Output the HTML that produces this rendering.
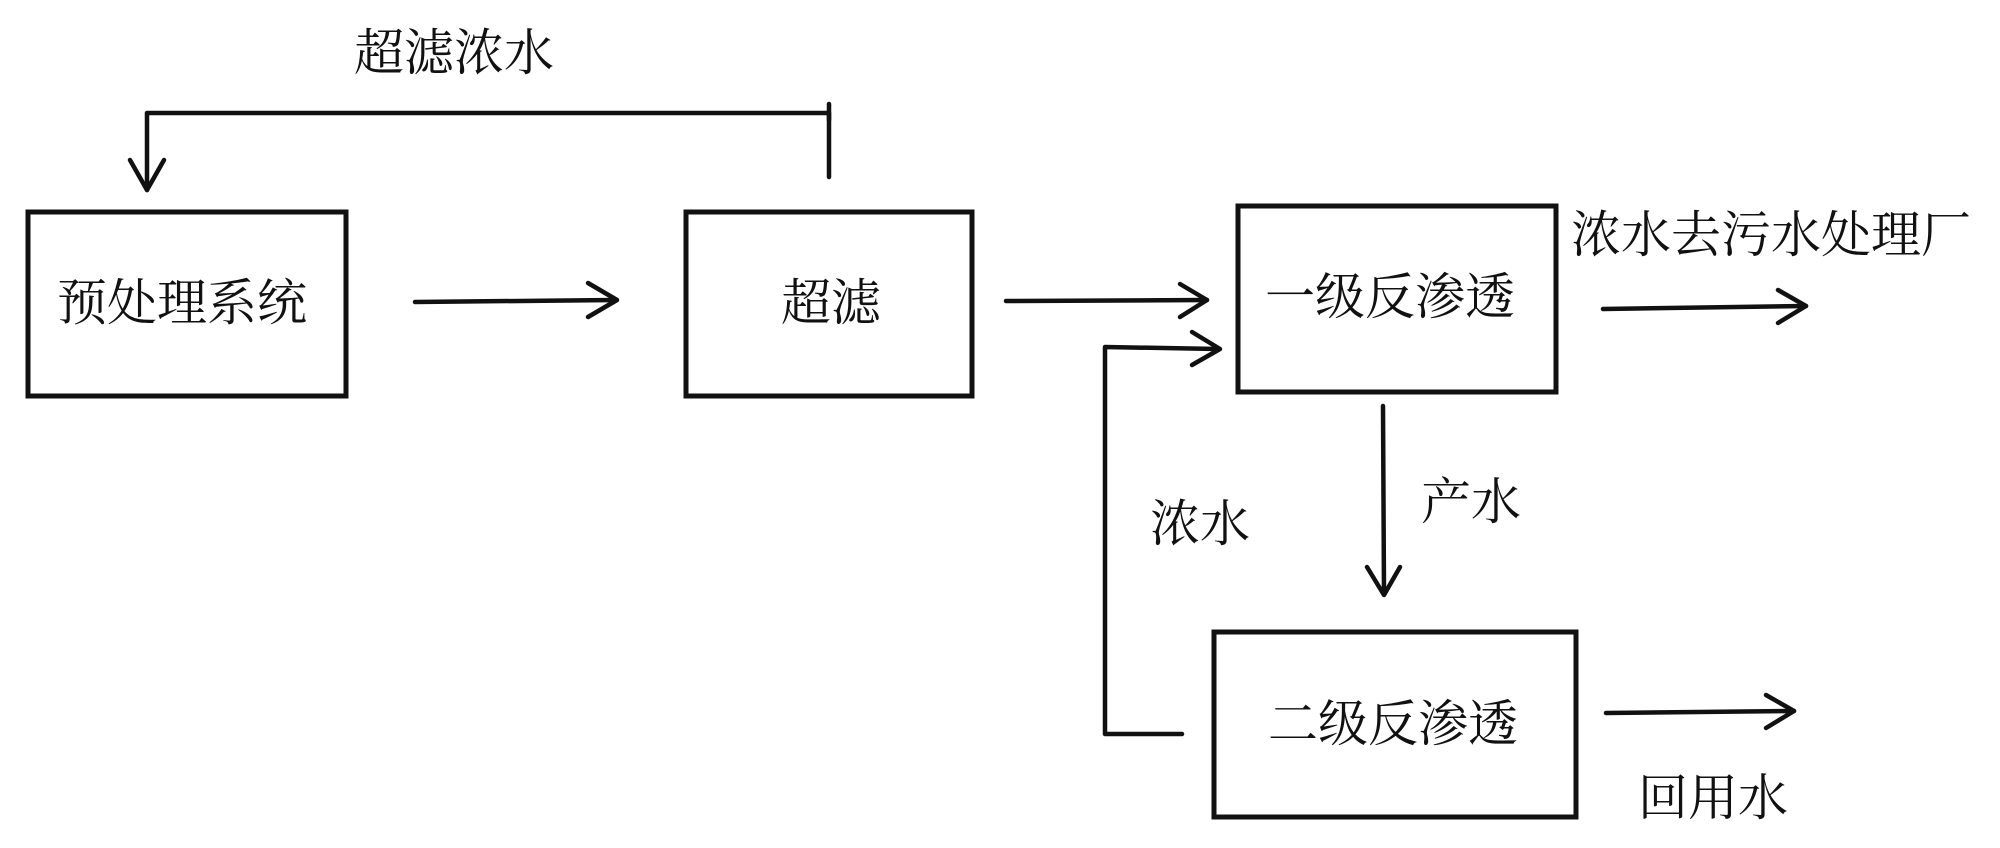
<!DOCTYPE html>
<html><head><meta charset="utf-8"><style>
html,body{margin:0;padding:0;background:#fff;}
svg{display:block;}
text{font-family:"Liberation Serif","Noto Serif CJK SC",serif;font-size:50px;fill:#111;dominant-baseline:central;}
</style></head><body>
<svg width="2000" height="848" viewBox="0 0 2000 848" xmlns="http://www.w3.org/2000/svg">
<g fill="none" stroke="#111" stroke-width="5">
<rect x="28" y="212" width="318" height="184"/>
<rect x="686" y="212" width="286" height="184"/>
<rect x="1238" y="206" width="318" height="186"/>
<rect x="1214" y="632" width="362" height="185"/>
</g>
<g fill="none" stroke="#111" stroke-width="4.5" stroke-linecap="round" stroke-linejoin="round">
<!-- feedback -->
<polyline points="829,177 829,113 147,113 147,190"/>
<polyline points="130,160 147,190 164,160"/>
<line x1="829" y1="104" x2="829" y2="120"/>
<!-- arrow 1 -->
<line x1="415" y1="302" x2="615" y2="300"/>
<polyline points="588,283 617,300 588,317"/>
<!-- arrow 2 -->
<line x1="1006" y1="301" x2="1207" y2="300"/>
<polyline points="1180,284 1207,300 1180,317"/>
<!-- concentrate loop -->
<polyline points="1182,734 1105,734 1105,347 1218,349"/>
<polyline points="1192,332 1220,349 1192,365"/>
<!-- down arrow -->
<line x1="1383" y1="406" x2="1384" y2="594"/>
<polyline points="1367,567 1384,595 1400,567"/>
<!-- right arrows -->
<line x1="1603" y1="309" x2="1806" y2="306"/>
<polyline points="1778,290 1806,306 1778,323"/>
<line x1="1606" y1="713" x2="1794" y2="711"/>
<polyline points="1766,695 1794,711 1766,728"/>
</g>
<text x="354" y="53">超滤浓水</text>
<text x="57" y="303">预处理系统</text>
<text x="781" y="303">超滤</text>
<text x="1265" y="297">一级反渗透</text>
<text x="1268" y="724">二级反渗透</text>
<text x="1571" y="235">浓水去污水处理厂</text>
<text x="1421" y="502">产水</text>
<text x="1150" y="524">浓水</text>
<text x="1638" y="798">回用水</text>
</svg>
</body></html>
